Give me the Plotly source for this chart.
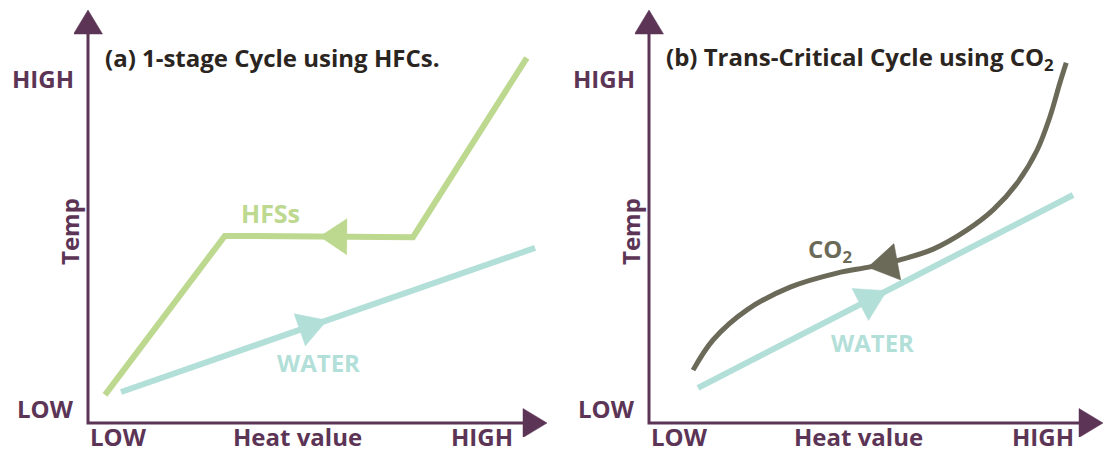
import numpy as np
import plotly.graph_objects as go

W, H = 1111, 453

# ---------------- data (heat value 0-100, temperature 0-100) ----------------
# Panel (a): 1-stage cycle using HFCs
hfc_heat = [3.7, 29.8, 70.8, 95.6]
hfc_temp = [6.8, 45.3, 45.0, 88.4]
water_a_heat = [7.2, 97.4]
water_a_temp = [7.5, 42.4]

# Panel (b): trans-critical cycle using CO2
co2_heat = [9.7, 14.1, 21.6, 31.1, 41.4, 48.7, 55.3, 62.6, 70.0, 75.8, 81.1, 85.5, 88.3, 90.5, 91.9]
co2_temp = [12.8, 20.1, 27.4, 32.9, 36.3, 37.8, 39.5, 42.1, 46.7, 51.6, 58.1, 66.1, 74.1, 82.3, 87.2]
water_b_heat = [10.8, 93.4]
water_b_temp = [8.5, 55.2]

# flow-direction arrow tips: heat position and direction along the heat axis
hfc_arrow = (50.5, -1)
water_a_arrow = (52.1, 1)
co2_arrow = (48.2, -1)
water_b_arrow = (52.4, 1)

axis_labels = {"low": "LOW", "high": "HIGH", "x": "Heat value", "y": "Temp"}
title_a = "(a) 1-stage Cycle using HFCs."
title_b = "(b) Trans-Critical Cycle using CO<sub>2</sub>"

# ---------------- styles ----------------
PURPLE = "#5c3556"
DARK = "#2b2521"
GREEN = "#bdd88f"
WATER = "#b3dfd9"
CO2C = "#6b6a59"
FONT = "Open Sans"

# panel geometry in pixels: origin, x-arrow tip, y-arrow tip
panels = {
    "a": dict(ox=88, oy=423, xt=547, yt=10, dom_x=(74, 562), dom_y=(0, 437), xa="x", ya="y"),
    "b": dict(ox=649, oy=423, xt=1103, yt=10, dom_x=(635, 1111), dom_y=(0, 437), xa="x2", ya="y2"),
}
for p in panels.values():
    p["sx"] = (p["xt"] - p["ox"]) / 100.0
    p["sy"] = (p["oy"] - p["yt"]) / 100.0

fig = go.Figure()


def triangle(p, tx, ty, ux, uy, length, width):
    """Triangle with tip (tx,ty) in data units, direction (ux,uy) in px space (y up)."""
    n = np.hypot(ux, uy)
    ux, uy = ux / n, uy / n
    bx, by = -ux * length, -uy * length
    px_, py_ = -uy, ux
    xs = [0, bx + px_ * width / 2, bx - px_ * width / 2, 0]
    ys = [0, by + py_ * width / 2, by - py_ * width / 2, 0]
    return [tx + v / p["sx"] for v in xs], [ty + v / p["sy"] for v in ys]


def add_tri(p, tx, ty, ux, uy, length, width, color):
    xs, ys = triangle(p, tx, ty, ux, uy, length, width)
    fig.add_trace(go.Scatter(x=xs, y=ys, mode="lines", fill="toself", fillcolor=color,
                             line=dict(color=color, width=0.5), xaxis=p["xa"], yaxis=p["ya"],
                             hoverinfo="skip", showlegend=False))


def add_line(p, xs, ys, color, width, shape="linear", smoothing=1.0):
    fig.add_trace(go.Scatter(x=xs, y=ys, mode="lines",
                             line=dict(color=color, width=width, shape=shape, smoothing=smoothing),
                             xaxis=p["xa"], yaxis=p["ya"], hoverinfo="skip", showlegend=False))


def add_flow_arrow(p, hx, hy, tip, color, length, width):
    x0, d = tip
    y0 = float(np.interp(x0, hx, hy))
    y1 = float(np.interp(x0 + d * 0.5, hx, hy))
    ux = d * 0.5 * p["sx"]
    uy = (y1 - y0) * p["sy"]
    add_tri(p, x0, y0, ux, uy, length, width, color)


def axes_frame(p):
    L = 24
    fig.add_trace(go.Scatter(x=[0, 0, 100 - L / p["sx"]], y=[100 - L / p["sy"], 0, 0], mode="lines",
                             line=dict(color=PURPLE, width=3), xaxis=p["xa"], yaxis=p["ya"],
                             hoverinfo="skip", showlegend=False))
    add_tri(p, 0, 100, 0, 1, L, 29, PURPLE)
    add_tri(p, 100, 0, 1, 0, L, 29, PURPLE)


pa, pb = panels["a"], panels["b"]
axes_frame(pa)
axes_frame(pb)

add_line(pa, water_a_heat, water_a_temp, WATER, 6)
add_line(pa, hfc_heat, hfc_temp, GREEN, 6)
add_flow_arrow(pa, water_a_heat, water_a_temp, water_a_arrow, WATER, 29, 34)
add_flow_arrow(pa, hfc_heat, hfc_temp, hfc_arrow, GREEN, 27, 36)

add_line(pb, water_b_heat, water_b_temp, WATER, 6)
add_line(pb, co2_heat, co2_temp, CO2C, 5, shape="spline", smoothing=1.0)
add_flow_arrow(pb, water_b_heat, water_b_temp, water_b_arrow, WATER, 30, 36)
add_flow_arrow(pb, co2_heat, co2_temp, co2_arrow, CO2C, 30, 37)

# ---------------- axes layout ----------------
def axis_cfg(dom, rng):
    return dict(domain=dom, range=rng, visible=False, showgrid=False, zeroline=False, fixedrange=True)

layout_axes = {}
for key, p in panels.items():
    dx = (p["dom_x"][0] / W, p["dom_x"][1] / W)
    rx = [(p["dom_x"][0] - p["ox"]) / p["sx"], (p["dom_x"][1] - p["ox"]) / p["sx"]]
    dy = (1 - p["dom_y"][1] / H, 1 - p["dom_y"][0] / H)
    ry = [(p["oy"] - p["dom_y"][1]) / p["sy"], (p["oy"] - p["dom_y"][0]) / p["sy"]]
    xname = "xaxis" if p["xa"] == "x" else "xaxis2"
    yname = "yaxis" if p["ya"] == "y" else "yaxis2"
    layout_axes[xname] = axis_cfg(dx, rx)
    layout_axes[yname] = axis_cfg(dy, ry)
layout_axes["xaxis2"]["anchor"] = "y2"
layout_axes["yaxis2"]["anchor"] = "x2"

# ---------------- text ----------------
ann = []


def text(s, px, py, color, size, xanchor="center", angle=0):
    ann.append(dict(text=s, x=px / W, y=1 - py / H, xref="paper", yref="paper", showarrow=False,
                    xanchor=xanchor, yanchor="middle", textangle=angle,
                    font=dict(family=FONT, size=size, color=color, weight="bold")))


LBL = 24
for p, title in ((pa, title_a), (pb, title_b)):
    ox = p["ox"]
    text(axis_labels["high"], ox - 12, 78, PURPLE, LBL, xanchor="right")
    text(axis_labels["low"], ox - 12, 408, PURPLE, LBL, xanchor="right")
    text(axis_labels["y"], ox - 18, 232, PURPLE, LBL, angle=-90)
    text(axis_labels["low"], ox + 30, 436, PURPLE, LBL)
    text(axis_labels["x"], ox + 209, 436, PURPLE, LBL)
    text(axis_labels["high"], ox + 394, 436, PURPLE, LBL)
    text(title, ox + 15, 58, DARK, 24, xanchor="left")

text("HFSs", 270, 213, GREEN, 25)
text("WATER", 318, 362, WATER, 24)
text("CO<sub>2</sub>", 830, 250, CO2C, 24)
text("WATER", 872, 342, WATER, 24)

fig.update_layout(width=W, height=H, margin=dict(l=0, r=0, t=0, b=0),
                  paper_bgcolor="white", plot_bgcolor="rgba(0,0,0,0)",
                  annotations=ann, showlegend=False, **layout_axes)

fig.write_html("out.html", config={"displayModeBar": False},
               post_script="document.body.style.margin='0';document.body.style.overflow='hidden';")
